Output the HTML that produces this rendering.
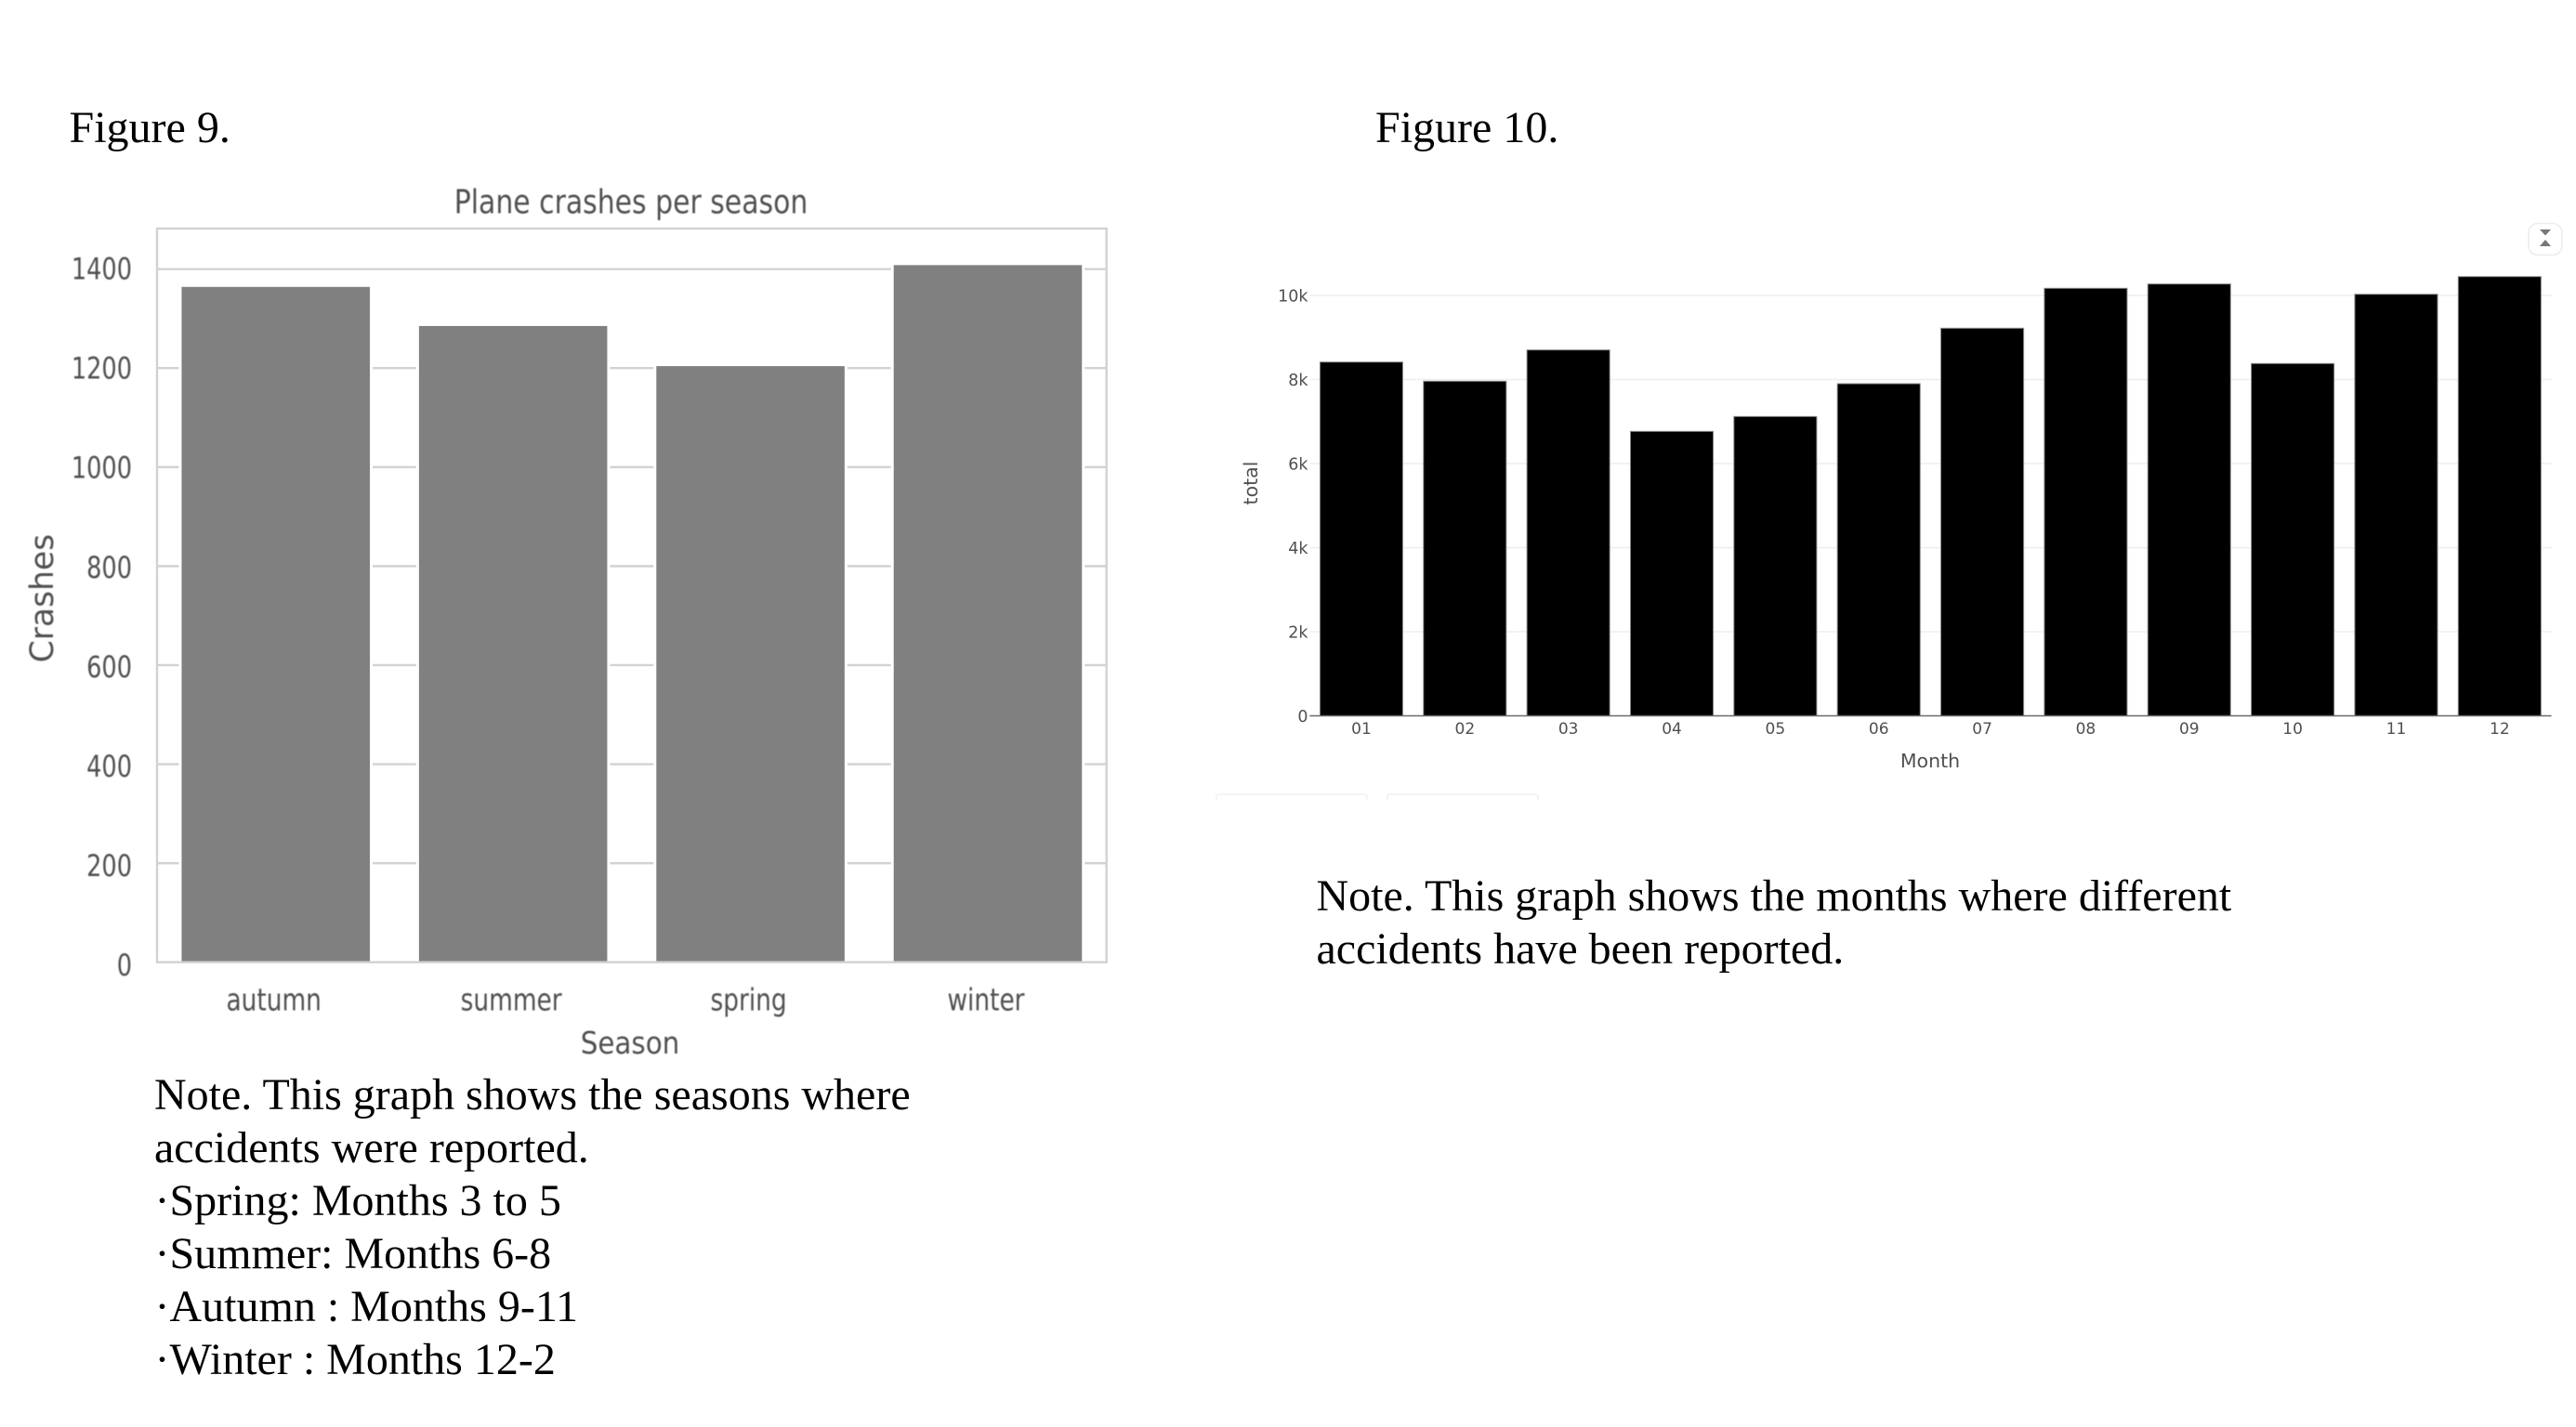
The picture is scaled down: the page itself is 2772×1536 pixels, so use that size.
<!DOCTYPE html>
<html lang="en">
<head>
<meta charset="utf-8">
<title>Figure 9 and Figure 10</title>
<style>
html,body{margin:0;padding:0;background:#fff;width:2772px;height:1536px;overflow:hidden}
svg{position:absolute;left:0;top:0;display:block}
.serif{font-family:"Liberation Serif",serif;font-size:48px;fill:#000}
.sans{font-family:"DejaVu Sans",sans-serif;fill:#505050}
.soft{filter:blur(0.6px)}
</style>
</head>
<body>
<svg id="stage" width="2772" height="1536" viewBox="0 0 2772 1536" xmlns="http://www.w3.org/2000/svg">
  <rect x="0" y="0" width="2772" height="1536" fill="#fff"/>
  <text class="serif" x="74.5" y="153">Figure 9.</text>
  <text class="serif" x="1480" y="153">Figure 10.</text>

  <g id="season-chart"></g>
  <g id="month-chart"></g>

  <g>
    <rect x="2721" y="240.5" width="36" height="34" rx="10" fill="#fff" stroke="#ececec" stroke-width="1.5"/>
    <polygon points="2733,247 2745,247 2739,253.5" fill="#777"/>
    <polygon points="2733,265 2745,265 2739,258" fill="#777"/>
  </g>
  <path d="M1309 861 V858 Q1309 855 1312 855 H1468 Q1471 855 1471 858 V861" fill="none" stroke="#f1f1f1" stroke-width="1.5"/>
  <path d="M1493 861 V858 Q1493 855 1496 855 H1652 Q1655 855 1655 858 V861" fill="none" stroke="#f1f1f1" stroke-width="1.5"/>

  <g>
    <text class="serif" x="166" y="1194">Note. This graph shows the seasons where</text>
    <text class="serif" x="166" y="1251">accidents were reported.</text>
    <text class="serif" x="166.5" y="1308">·Spring: Months 3 to 5</text>
    <text class="serif" x="166.5" y="1365">·Summer: Months 6-8</text>
    <text class="serif" x="166.5" y="1422">·Autumn : Months 9-11</text>
    <text class="serif" x="166.5" y="1479">·Winter : Months 12-2</text>
  </g>
  <g>
    <text class="serif" x="1416.5" y="980">Note. This graph shows the months where different</text>
    <text class="serif" x="1416.5" y="1037">accidents have been reported.</text>
  </g>
</svg>

<script>
// Figure 9 data
const seasonCategories = ['autumn', 'summer', 'spring', 'winter'];
const seasonCrashes = [1364, 1285, 1204, 1408];
const seasonTicks = [0, 200, 400, 600, 800, 1000, 1200, 1400];

// Figure 10 data
const monthCategories = ['01', '02', '03', '04', '05', '06', '07', '08', '09', '10', '11', '12'];
const monthTotals = [8415, 7960, 8703, 6766, 7120, 7900, 9220, 10170, 10272, 8380, 10028, 10448];
const monthTicks = [0, 2000, 4000, 6000, 8000, 10000];
const monthTickLabels = ['0', '2k', '4k', '6k', '8k', '10k'];

const SVGNS = 'http://www.w3.org/2000/svg';
function shape(parent, tag, attrs, content) {
  const el = document.createElementNS(SVGNS, tag);
  for (const k in attrs) el.setAttribute(k, attrs[k]);
  if (content !== undefined) el.textContent = content;
  parent.appendChild(el);
  return el;
}
function squeezed(x, y, sx) {
  return 'translate(' + x + ' ' + y + ') scale(' + sx + ' 1)';
}

/* ---------- Figure 9 ---------- */
const sFrame = { left: 169, right: 1190.7, top: 246, bottom: 1035.7 };
const sUnit = 0.5329;
function sY(v) { return sFrame.bottom - v * sUnit; }
function sBand() { return (sFrame.right - sFrame.left) / seasonCategories.length; }
function sX(i) { return sFrame.left + sBand() * (i + 0.5); }
function sLabelY(v) { return sY(v) + 11 + (1400 - v) / 1400 * 3.3; }

const sRoot = document.getElementById('season-chart');
const sBarW = sBand() * 0.793;
const sBaseStyle = 'stroke:#d2d2d2;stroke-width:2.4';

seasonTicks.forEach(function (t) {
  if (t === 0) return;
  const g = shape(sRoot, 'line', { x1: sFrame.left, x2: sFrame.right, y1: sY(t), y2: sY(t), style: sBaseStyle });
  
  
});

seasonCrashes.forEach(function (v, i) {
  const halo = shape(sRoot, 'rect', { x: sX(i) - sBarW / 2 - 3, y: sY(v) - 3, width: sBarW + 6, height: sFrame.bottom - sY(v) + 3, fill: '#fff' });
  
  
  const bar = shape(sRoot, 'rect', { x: sX(i) - sBarW / 2, y: sY(v), width: sBarW, height: sFrame.bottom - sY(v), fill: '#808080' });
  
  
});

const sBorder = shape(sRoot, 'rect', { x: sFrame.left, y: sFrame.top, width: sFrame.right - sFrame.left, height: sFrame.bottom - sFrame.top, fill: 'none', style: sBaseStyle });



const sText = shape(sRoot, 'g', { class: 'soft' });



seasonTicks.forEach(function (t) {
  const lab = shape(sText, 'text', { class: 'sans', 'font-size': 32, 'text-anchor': 'end', transform: squeezed(142, sLabelY(t), 0.8) }, String(t));
  
  
});
seasonCategories.forEach(function (c, i) {
  const lab = shape(sText, 'text', { class: 'sans', 'font-size': 33, 'text-anchor': 'middle', transform: squeezed(sX(i) - 2, 1087.5, 0.8) }, c);
  
  
});
const sTitle = shape(sText, 'text', { class: 'sans', 'font-size': 36, 'text-anchor': 'middle', transform: squeezed(679, 229.5, 0.83) }, 'Plane crashes per season');


const sXTitle = shape(sText, 'text', { class: 'sans', 'font-size': 33, 'text-anchor': 'middle', transform: squeezed(678, 1134, 0.89) }, 'Season');


const sYTitle = shape(sText, 'text', { class: 'sans', 'font-size': 34.5, 'text-anchor': 'middle', transform: 'translate(57 644) rotate(-90)' }, 'Crashes');



/* ---------- Figure 10 ---------- */
const mFrame = { left: 1409.3, right: 2745.5, bottom: 770.5 };
const mUnit = 0.04525;
function mY(v) { return mFrame.bottom - v * mUnit; }
function mBand() { return (mFrame.right - mFrame.left) / monthCategories.length; }
function mX(i) { return mFrame.left + mBand() * (i + 0.5); }

const mRoot = document.getElementById('month-chart');
const mBarW = mBand() * 0.8;

monthTicks.forEach(function (t) {
  if (t === 0) return;
  const g = shape(mRoot, 'line', { x1: mFrame.left, x2: mFrame.right, y1: mY(t), y2: mY(t), stroke: '#eeeeee', 'stroke-width': 1.5 });
  
  
});

monthTotals.forEach(function (v, i) {
  const bar = shape(mRoot, 'rect', { x: mX(i) - mBarW / 2, y: mY(v), width: mBarW, height: mFrame.bottom - mY(v), fill: '#000', stroke: '#8a8a8a', 'stroke-width': 1 });
  
  
});

const mAxis = shape(mRoot, 'line', { x1: mFrame.left, x2: mFrame.right, y1: mFrame.bottom, y2: mFrame.bottom, stroke: '#6a6a6a', 'stroke-width': 1.6 });



monthTicks.forEach(function (t, i) {
  const lab = shape(mRoot, 'text', { class: 'sans', 'font-size': 17.5, 'text-anchor': 'end', x: 1407.5, y: mY(t) + 6.5 }, monthTickLabels[i]);
  
  
});
monthCategories.forEach(function (c, i) {
  const lab = shape(mRoot, 'text', { class: 'sans', 'font-size': 17, 'text-anchor': 'middle', x: mX(i), y: 790 }, c);
  
  
});
const mXTitle = shape(mRoot, 'text', { class: 'sans', 'font-size': 20.5, 'text-anchor': 'middle', x: 2077, y: 826 }, 'Month');


const mYTitle = shape(mRoot, 'text', { class: 'sans', 'font-size': 20.5, 'text-anchor': 'middle', transform: 'translate(1353 520) rotate(-90)' }, 'total');


</script>
</body>
</html>
